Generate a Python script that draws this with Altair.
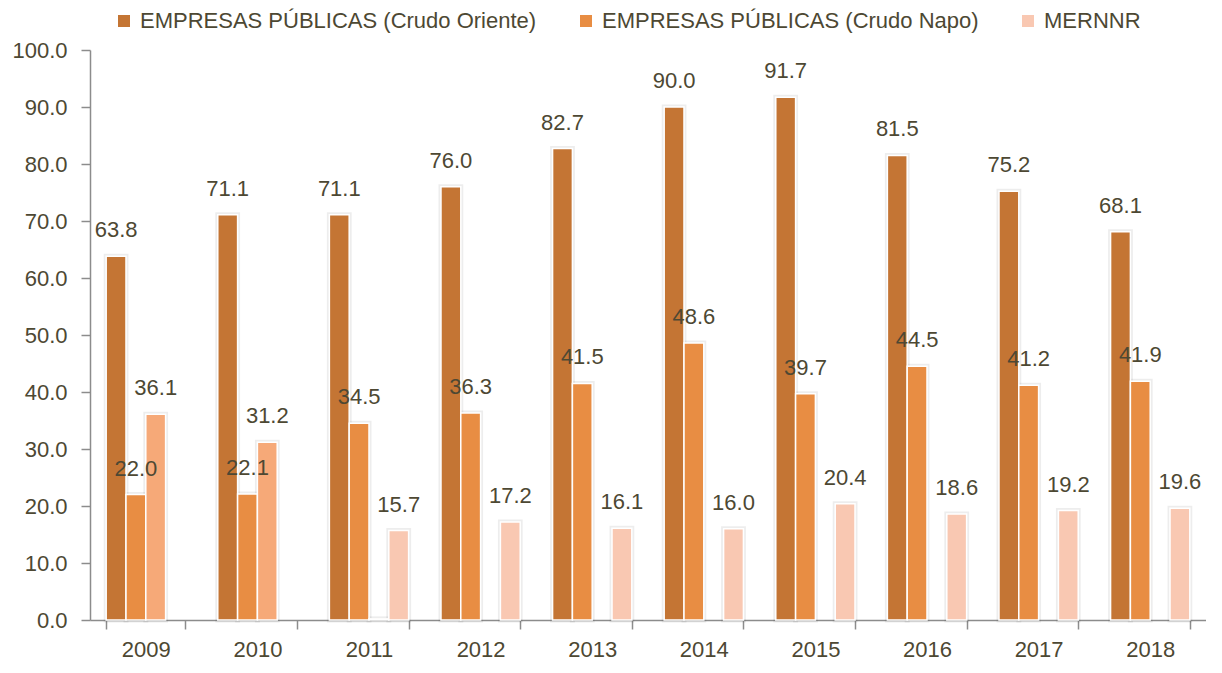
import altair as alt
import pandas as pd

years = ["2009", "2010", "2011", "2012", "2013", "2014", "2015", "2016", "2017", "2018"]
series = [
    "EMPRESAS PÚBLICAS (Crudo Oriente)",
    "EMPRESAS PÚBLICAS (Crudo Napo)",
    "SECRETARÍA DE HIDROCARBUROS",
    "MERNNR",
]
oriente = [63.8, 71.1, 71.1, 76.0, 82.7, 90.0, 91.7, 81.5, 75.2, 68.1]
napo = [22.0, 22.1, 34.5, 36.3, 41.5, 48.6, 39.7, 44.5, 41.2, 41.9]
secretaria = [36.1, 31.2, 0.2, None, None, None, None, None, None, None]
mernnr = [None, None, 15.7, 17.2, 16.1, 16.0, 20.4, 18.6, 19.2, 19.6]
colors = ["#C47534", "#E88D43", "#F6A978", "#F9C8B2"]
y_ticks = [0, 10, 20, 30, 40, 50, 60, 70, 80, 90, 100]

rows = []
for s, vals in zip(series, [oriente, napo, secretaria, mernnr]):
    for yr, v in zip(years, vals):
        if v is not None:
            rows.append({"year": yr, "serie": s, "value": v})
df = pd.DataFrame(rows)

FONT = "Liberation Sans, Arial, sans-serif"
TXT = "#4D4833"
AX = "#8C8C8C"

x_enc = alt.X(
    "year:N",
    sort=years,
    scale=alt.Scale(paddingInner=0.29, paddingOuter=0.145),
    axis=alt.Axis(
        title=None, labelAngle=0, tickBand="extent", tickSize=9, tickColor=AX,
        domainColor=AX, domainWidth=1.5, tickWidth=1.5, labelPadding=10,
        labelFontSize=22, labelFont=FONT, labelColor=TXT,
    ),
)
xo_enc = alt.XOffset("serie:N", sort=series, scale=alt.Scale(domain=series, paddingInner=0))
y_enc = alt.Y(
    "value:Q",
    scale=alt.Scale(domain=[0, 100], nice=False),
    axis=alt.Axis(
        title=None, values=y_ticks, format=".1f", grid=False, tickSize=9,
        tickColor=AX, domainColor=AX, domainWidth=1.5, tickWidth=1.5,
        labelPadding=14, labelFontSize=22, labelFont=FONT, labelColor=TXT,
    ),
)
color_enc = alt.Color(
    "serie:N",
    scale=alt.Scale(domain=series, range=colors),
    legend=alt.Legend(
        title=None, orient="none", direction="horizontal", legendX=23, legendY=-40,
        values=[series[0], series[1], series[3]],
        symbolType="square", symbolSize=144, symbolStrokeWidth=0,
        labelFontSize=22, labelFont=FONT, labelColor=TXT, labelOffset=5,
        columnPadding=38, labelLimit=600,
    ),
)

base = alt.Chart(df)
shadow = base.mark_bar(
    fillOpacity=0, stroke="#000000", strokeOpacity=0.07, strokeWidth=5
).encode(x=x_enc, xOffset=xo_enc, y=y_enc)
bars = base.mark_bar(stroke="white", strokeWidth=1.5).encode(
    x=x_enc, xOffset=xo_enc, y=y_enc, color=color_enc
)
labels = base.transform_filter("datum.value > 1").mark_text(
    dy=-26, fontSize=22, font=FONT, color=TXT, baseline="middle"
).encode(x=x_enc, xOffset=xo_enc, y=y_enc, text=alt.Text("value:Q", format=".1f"))

chart = (
    alt.layer(shadow, bars, labels)
    .properties(
        width=1116, height=570,
        background="white",
        autosize=alt.AutoSizeParams(type="none"),
        padding={"left": 82, "top": 42, "right": 0, "bottom": 45},
    )
    .configure_view(strokeWidth=0, stroke="transparent")
)

chart.save("out.html", embed_options={"renderer": "svg", "actions": False})
